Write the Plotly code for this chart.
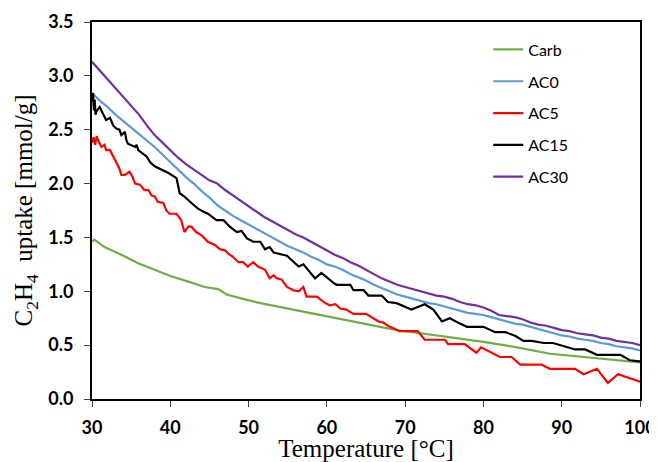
import plotly.graph_objects as go

# ---- data ----
carb_x = [30.0, 30.3, 31.6, 33.75, 35.9, 38.0, 40.1, 42.3, 44.4, 46.1, 47.2, 49.3, 51.5, 53.6, 55.7,
          57.9, 60.0, 62.5, 64.7, 66.8, 68.9, 71.0, 73.2, 75.3, 77.0, 80.0, 84.3, 88.5, 92.8, 97.1, 100.0]
carb_y = [1.46, 1.48, 1.41, 1.34, 1.26, 1.20, 1.14, 1.09, 1.04, 1.02, 0.97, 0.93, 0.89, 0.86, 0.83,
          0.80, 0.77, 0.73, 0.70, 0.67, 0.64, 0.62, 0.60, 0.58, 0.56, 0.53, 0.48, 0.42, 0.39, 0.36, 0.34]

ac0_x = [30, 31, 32, 33, 34, 35, 36, 37, 38, 39, 40, 41, 42, 43, 44, 45, 46, 47, 48, 49, 50,
         51, 52, 53, 54, 55, 56, 57, 58, 59, 60, 61, 62, 63, 64, 65, 66, 67, 68, 69, 70,
         71, 72, 73, 74, 75, 76, 77, 78, 79, 80, 81, 82, 83, 84, 85, 86, 87, 88, 89, 90,
         91, 92, 93, 94, 95, 96, 97, 98, 99, 100]
ac0_y = [2.84, 2.77, 2.71, 2.64, 2.58, 2.52, 2.46, 2.40, 2.34, 2.27, 2.20, 2.13, 2.06, 2.00, 1.93,
         1.87, 1.80, 1.75, 1.70, 1.66, 1.62, 1.58, 1.54, 1.50, 1.46, 1.42, 1.39, 1.36, 1.32, 1.29,
         1.25, 1.23, 1.20, 1.16, 1.13, 1.10, 1.06, 1.03, 1.00, 0.97, 0.95, 0.93, 0.91, 0.89, 0.88,
         0.86, 0.84, 0.82, 0.80, 0.79, 0.78, 0.76, 0.74, 0.72, 0.70, 0.69, 0.67, 0.65, 0.63, 0.61,
         0.59, 0.58, 0.56, 0.55, 0.54, 0.52, 0.51, 0.49, 0.48, 0.47, 0.45]

ac5_x = [30.0, 30.2, 30.4, 30.6, 30.8, 31.2, 31.6, 31.8, 32.3, 32.7, 33.1, 33.5, 33.75, 34.2, 34.8,
         35.2, 35.5, 36.1, 36.7, 37.2, 37.6, 38.0, 38.4, 39.1, 39.5, 39.9, 40.8, 41.4, 41.8, 42.3,
         42.7, 43.3, 44.0, 44.8, 45.7, 46.35, 47.0, 47.4, 48.0, 48.7, 49.3, 49.9, 50.6, 51.2, 52.1,
         52.7, 53.2, 53.6, 54.2, 54.9, 55.7, 56.4, 57.0, 57.4, 58.7, 59.8, 60.4, 61.1, 61.7, 62.5,
         63.4, 65.0, 66.6, 67.2, 67.8, 69.3, 71.6, 72.5, 75.1, 75.5, 77.6, 79.1, 79.7, 82.1, 83.6,
         84.7, 87.4, 88.5, 91.7, 92.8, 94.5, 95.9, 97.2, 100.0]
ac5_y = [2.38, 2.43, 2.36, 2.44, 2.40, 2.34, 2.36, 2.31, 2.31, 2.25, 2.19, 2.14, 2.08, 2.08, 2.11,
         2.06, 2.00, 1.99, 1.94, 1.94, 1.89, 1.88, 1.83, 1.82, 1.75, 1.72, 1.72, 1.66, 1.55, 1.60,
         1.60, 1.55, 1.52, 1.46, 1.43, 1.39, 1.38, 1.35, 1.32, 1.27, 1.27, 1.23, 1.27, 1.23, 1.20,
         1.12, 1.15, 1.12, 1.11, 1.04, 1.01, 1.00, 1.04, 0.95, 0.95, 0.89, 0.87, 0.88, 0.84, 0.83,
         0.79, 0.79, 0.72, 0.71, 0.68, 0.63, 0.63, 0.55, 0.55, 0.51, 0.51, 0.43, 0.48, 0.39, 0.39,
         0.32, 0.32, 0.28, 0.28, 0.23, 0.28, 0.15, 0.23, 0.16]

ac15_x = [30.0, 30.13, 30.25, 30.34, 30.45, 30.55, 30.98, 31.4, 31.8, 32.3, 32.7, 33.1, 33.5, 33.75,
          34.2, 34.4, 34.6, 35.5, 35.7, 35.9, 37.0, 37.4, 38.0, 39.7, 40.8, 41.2, 41.8, 42.7, 43.5,
          44.2, 44.8, 45.9, 46.8, 47.6, 48.5, 49.1, 49.8, 50.6, 51.5, 52.1, 52.7, 53.2, 54.9, 56.4,
          57.0, 58.5, 59.3, 61.0, 61.3, 63.0, 63.4, 64.7, 65.3, 67.0, 67.8, 68.9, 70.8, 72.5, 73.6,
          74.7, 75.7, 77.0, 77.9, 80.0, 81.5, 82.8, 84.1, 85.1, 86.2, 87.7, 88.9, 91.7, 93.0, 94.5,
          97.5, 98.7, 100.0]
ac15_y = [2.76, 2.84, 2.68, 2.78, 2.64, 2.67, 2.71, 2.64, 2.59, 2.61, 2.54, 2.51, 2.50, 2.45,
          2.48, 2.40, 2.37, 2.34, 2.36, 2.31, 2.25, 2.20, 2.16, 2.10, 2.05, 1.91, 1.88, 1.82, 1.77,
          1.74, 1.72, 1.66, 1.66, 1.60, 1.55, 1.56, 1.49, 1.46, 1.46, 1.39, 1.41, 1.36, 1.33, 1.23,
          1.25, 1.12, 1.17, 1.07, 1.06, 1.06, 1.01, 1.01, 0.96, 0.96, 0.90, 0.89, 0.83, 0.88, 0.83,
          0.72, 0.75, 0.70, 0.67, 0.67, 0.62, 0.62, 0.585, 0.54, 0.54, 0.52, 0.52, 0.46, 0.46, 0.41,
          0.41, 0.36, 0.35]

ac30_x = [30, 31, 32, 33, 34, 35, 36, 37, 38, 39, 40, 41, 42, 43, 44, 45, 46, 47, 48, 49, 50,
          51, 52, 53, 54, 55, 56, 57, 58, 59, 60, 61, 62, 63, 64, 65, 66, 67, 68, 69, 70,
          71, 72, 73, 74, 75, 76, 77, 78, 79, 80, 81, 82, 83, 84, 85, 86, 87, 88, 89, 90,
          91, 92, 93, 94, 95, 96, 97, 98, 99, 100]
ac30_y = [3.13, 3.05, 2.96, 2.88, 2.80, 2.73, 2.64, 2.54, 2.45, 2.38, 2.31, 2.24, 2.18, 2.13, 2.08,
          2.03, 2.00, 1.94, 1.89, 1.84, 1.79, 1.74, 1.69, 1.65, 1.61, 1.57, 1.53, 1.50, 1.46, 1.42,
          1.38, 1.34, 1.31, 1.27, 1.24, 1.20, 1.16, 1.12, 1.09, 1.06, 1.04, 1.02, 1.00, 0.98, 0.96,
          0.95, 0.93, 0.90, 0.88, 0.87, 0.85, 0.82, 0.78, 0.77, 0.76, 0.74, 0.71, 0.69, 0.68, 0.66,
          0.64, 0.63, 0.61, 0.60, 0.59, 0.57, 0.56, 0.54, 0.53, 0.52, 0.50]

series_names = ["Carb", "AC0", "AC5", "AC15", "AC30"]
series_x = [carb_x, ac0_x, ac5_x, ac15_x, ac30_x]
series_y = [carb_y, ac0_y, ac5_y, ac15_y, ac30_y]
series_colors = ["#70AD47", "#5B9BD5", "#FF0000", "#000000", "#7030A0"]

x_ticks = [30, 40, 50, 60, 70, 80, 90, 100]
y_ticks = [0.0, 0.5, 1.0, 1.5, 2.0, 2.5, 3.0, 3.5]

fig = go.Figure()
for name, xs, ys, color in zip(series_names, series_x, series_y, series_colors):
    fig.add_trace(go.Scatter(x=xs, y=ys, name=name, mode="lines",
                             legendgroup=name,
                             line=dict(color=color, width=2.2)))

tick_font = dict(family="Lato", size=18, color="black")
title_font = dict(family="Liberation Serif", size=25, color="black")

# the page body adds an 8px margin, so the figure is sized to fit the window
fig.update_layout(
    width=649, height=454,
    margin=dict(l=84, r=17, t=14, b=63),
    paper_bgcolor="white", plot_bgcolor="white",
    showlegend=True,
    legend=dict(x=0.723, y=0.972, xanchor="left", yanchor="top",
                font=dict(family="Lato", size=16, color="black"),
                tracegroupgap=8, traceorder="grouped",
                bgcolor="rgba(0,0,0,0)"),
    xaxis=dict(range=[30, 100], tickvals=x_ticks, ticktext=[f"<b>{v}</b>" for v in x_ticks],
               showgrid=False, zeroline=False, automargin=False,
               showline=True, linecolor="black", linewidth=2, mirror=True,
               ticks="outside", ticklen=6, tickcolor="#404040", tickwidth=1,
               ticklabelstandoff=5,
               tickfont=tick_font,
               title=dict(text="Temperature [°C]", font=title_font, standoff=2)),
    yaxis=dict(range=[0, 3.5], tickvals=y_ticks, ticktext=[f"<b>{v:.1f}</b>" for v in y_ticks],
               showgrid=False, zeroline=False, automargin=False,
               showline=True, linecolor="black", linewidth=2, mirror=True,
               ticks="outside", ticklen=6, tickcolor="#404040", tickwidth=1,
               ticklabelstandoff=7,
               tickfont=tick_font,
               title=dict(text="C<sub>2</sub>H<sub>4</sub>  uptake [mmol/g]", font=title_font, standoff=8)),
)

fig.write_html("out.html")
